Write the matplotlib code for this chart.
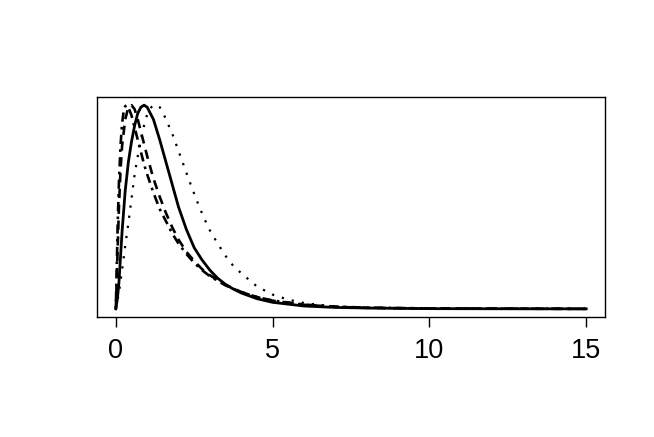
import matplotlib
matplotlib.use("Agg")
import matplotlib.pyplot as plt

plt.rcParams['font.family'] = ['Liberation Sans', 'DejaVu Sans']

# values (each curve scaled to peak 1)
solid_x = [0, 0.05, 0.1, 0.2, 0.3, 0.4, 0.5, 0.6, 0.7, 0.8, 0.9, 1.0, 1.2, 1.4, 1.6,
           1.8, 2.0, 2.25, 2.5, 2.75, 3.0, 3.25, 3.5, 3.75, 4.0, 4.5, 5.0, 6, 7, 8, 10, 12, 15]
solid_y = [0, 0.05, 0.13, 0.38, 0.58, 0.72, 0.82, 0.90, 0.96, 0.99, 1.0, 0.99, 0.93, 0.83, 0.72,
           0.61, 0.50, 0.39, 0.30, 0.24, 0.19, 0.15, 0.12, 0.097, 0.078, 0.05, 0.032, 0.014,
           0.007, 0.004, 0.001, 0.0005, 0.0]

dotted_x = [0, 0.1, 0.2, 0.3, 0.4, 0.5, 0.6, 0.7, 0.8, 0.9, 1.0, 1.1, 1.2, 1.3, 1.4, 1.5, 1.6,
            1.8, 2.0, 2.2, 2.4, 2.6, 2.8, 3.0, 3.25, 3.5, 3.75, 4.0, 4.5, 5.0, 5.5, 6.0, 6.5,
            7.0, 8, 9, 10, 12, 15]
dotted_y = [0, 0.08, 0.19, 0.31, 0.42, 0.54, 0.66, 0.75, 0.83, 0.90, 0.955, 0.985, 1.0, 1.0, 0.99,
            0.965, 0.93, 0.86, 0.775, 0.69, 0.605, 0.525, 0.45, 0.385, 0.32, 0.26, 0.21, 0.175,
            0.11, 0.07, 0.045, 0.029, 0.019, 0.012, 0.005, 0.002, 0.001, 0, 0]

dashed_x = [0, 0.05, 0.1, 0.15, 0.2, 0.3, 0.4, 0.5, 0.6, 0.7, 0.8, 0.9, 1.0, 1.2, 1.4, 1.6,
            1.8, 2.0, 2.25, 2.5, 2.75, 3.0, 3.5, 4.0, 4.5, 5.0, 6, 7, 8, 10, 12, 15]
dashed_y = [0, 0.25, 0.5, 0.68, 0.8, 0.93, 0.99, 1.0, 0.98, 0.93, 0.87, 0.81, 0.75, 0.64, 0.55, 0.47,
            0.40, 0.34, 0.28, 0.235, 0.195, 0.165, 0.118, 0.083, 0.058, 0.04, 0.02, 0.01, 0.005,
            0.002, 0.001, 0]

dotdash_x = [0, 0.03, 0.06, 0.1, 0.15, 0.2, 0.25, 0.3, 0.35, 0.4, 0.5, 0.6, 0.7, 0.8, 0.9, 1.0,
             1.2, 1.4, 1.6, 1.8, 2.0, 2.25, 2.5, 2.75, 3.0, 3.5, 4.0, 4.5, 5.0, 6, 7, 8, 10, 12, 15]
dotdash_y = [0, 0.2, 0.42, 0.62, 0.8, 0.91, 0.97, 0.995, 1.0, 0.99, 0.95, 0.89, 0.83, 0.77, 0.71,
             0.66, 0.57, 0.49, 0.43, 0.37, 0.32, 0.27, 0.225, 0.19, 0.16, 0.115, 0.082, 0.058,
             0.041, 0.021, 0.011, 0.006, 0.002, 0.001, 0]

xticks = [0, 5, 10, 15]

fig = plt.figure(figsize=(6.54, 4.37), dpi=100)
ax = fig.add_axes([97 / 654, 1 - 317 / 437, 508 / 654, 220 / 437])

ax.plot(solid_x, solid_y, color='black', lw=2.0, linestyle='-')
ax.plot(dotted_x, dotted_y, color='black', lw=1.6, linestyle=(0, (1, 3.6)))
ax.plot(dashed_x, dashed_y, color='black', lw=1.9, linestyle=(0, (3.5, 2.5)))
ax.plot(dotdash_x, dotdash_y, color='black', lw=1.9, linestyle=(0, (1, 2, 3.5, 2)))

ax.set_xlim(-0.6, 15.6)
ax.set_ylim(-0.04, 1.04)
ax.set_xticks(xticks)
ax.set_xticklabels([str(t) for t in xticks])
ax.set_yticks([])
ax.tick_params(axis='x', length=7, width=1, pad=8, labelsize=19.5)
for s in ax.spines.values():
    s.set_linewidth(1)

fig.savefig('out.png', dpi=100)
